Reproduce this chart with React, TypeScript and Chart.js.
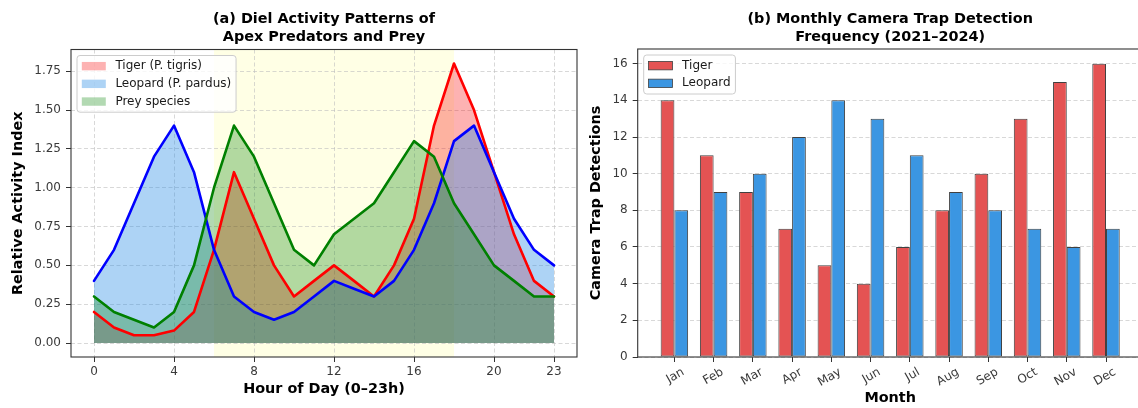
import React, { useEffect, useRef } from "react";
import { Chart, registerables } from "chart.js";

Chart.register(...registerables);

const FONT = '"DejaVu Sans", "Liberation Sans", sans-serif';

// ---- Panel (a): diel activity ----
const hours = [0, 1, 2, 3, 4, 5, 6, 7, 8, 9, 10, 11, 12, 13, 14, 15, 16, 17, 18, 19, 20, 21, 22, 23];
const tigerActivity = [0.2, 0.1, 0.05, 0.05, 0.08, 0.2, 0.6, 1.1, 0.8, 0.5, 0.3, 0.4, 0.5, 0.4, 0.3, 0.5, 0.8, 1.4, 1.8, 1.5, 1.1, 0.7, 0.4, 0.3];
const leopardActivity = [0.4, 0.6, 0.9, 1.2, 1.4, 1.1, 0.6, 0.3, 0.2, 0.15, 0.2, 0.3, 0.4, 0.35, 0.3, 0.4, 0.6, 0.9, 1.3, 1.4, 1.1, 0.8, 0.6, 0.5];
const preyActivity = [0.3, 0.2, 0.15, 0.1, 0.2, 0.5, 1.0, 1.4, 1.2, 0.9, 0.6, 0.5, 0.7, 0.8, 0.9, 1.1, 1.3, 1.2, 0.9, 0.7, 0.5, 0.4, 0.3, 0.3];
const daylight = [6, 18];
const hourTicks = [0, 4, 8, 12, 16, 20, 23];
const activityTicks = [0, 0.25, 0.5, 0.75, 1.0, 1.25, 1.5, 1.75];
const activityRange = [-0.09, 1.89];
const hourRange = [-1.15, 24.15];

// ---- Panel (b): monthly detections ----
const months = ["Jan", "Feb", "Mar", "Apr", "May", "Jun", "Jul", "Aug", "Sep", "Oct", "Nov", "Dec"];
const tigerDetections = [14, 11, 9, 7, 5, 4, 6, 8, 10, 13, 15, 16];
const leopardDetections = [8, 9, 10, 12, 14, 13, 11, 9, 8, 7, 6, 7];
const detectionTicks = [0, 2, 4, 6, 8, 10, 12, 14, 16];
const detectionRange = [0, 16.8];
const monthRange = [-0.935, 11.935];

const GRID = "rgba(190,190,190,0.75)";
const TICK_COLOR = "#3a3a3a";
const FRAME = "#333333";

function makeBandPlugin(start: number, end: number, color: string) {
  return {
    id: "dayBand",
    beforeDraw(chart: any) {
      const { ctx, chartArea } = chart;
      const xs = chart.scales.x;
      const x1 = xs.getPixelForValue(start);
      const x2 = xs.getPixelForValue(end);
      ctx.save();
      ctx.fillStyle = color;
      ctx.fillRect(x1, chartArea.top, x2 - x1, chartArea.bottom - chartArea.top);
      ctx.restore();
    },
  };
}

function makeFrameLegendPlugin(edged: boolean) {
  return {
    id: "frameLegend",
    afterDraw(chart: any) {
      const { ctx, chartArea } = chart;
      ctx.save();
      ctx.strokeStyle = FRAME;
      ctx.lineWidth = 1.1;
      ctx.strokeRect(chartArea.left, chartArea.top, chartArea.right - chartArea.left, chartArea.bottom - chartArea.top);

      const fs = 12;
      ctx.font = `${fs}px ${FONT}`;
      const items = chart.data.datasets.map((d: any) => ({
        label: d.label,
        fill: d.backgroundColor,
        edge: edged ? d.borderColor : null,
      }));
      const textW = Math.max(...items.map((i: any) => ctx.measureText(i.label).width));
      const pad = 0.4 * fs;
      const handleW = 2 * fs;
      const handleH = 0.7 * fs;
      const gap = 0.8 * fs;
      const rowH = 0.975 * fs;
      const spacing = 0.5 * fs;
      const axPad = 0.5 * fs;
      const x0 = chartArea.left + axPad;
      const y0 = chartArea.top + axPad;
      const w = pad * 2 + handleW + gap + textW;
      const h = pad * 2 + items.length * rowH + (items.length - 1) * spacing;
      const r = 3;
      ctx.beginPath();
      ctx.moveTo(x0 + r, y0);
      ctx.lineTo(x0 + w - r, y0);
      ctx.quadraticCurveTo(x0 + w, y0, x0 + w, y0 + r);
      ctx.lineTo(x0 + w, y0 + h - r);
      ctx.quadraticCurveTo(x0 + w, y0 + h, x0 + w - r, y0 + h);
      ctx.lineTo(x0 + r, y0 + h);
      ctx.quadraticCurveTo(x0, y0 + h, x0, y0 + h - r);
      ctx.lineTo(x0, y0 + r);
      ctx.quadraticCurveTo(x0, y0, x0 + r, y0);
      ctx.closePath();
      ctx.fillStyle = "rgba(255,255,255,0.8)";
      ctx.fill();
      ctx.strokeStyle = "#cccccc";
      ctx.lineWidth = 1;
      ctx.stroke();

      items.forEach((it: any, i: number) => {
        const cy = y0 + pad + rowH / 2 + i * (rowH + spacing);
        const hx = x0 + pad;
        ctx.fillStyle = it.fill;
        ctx.fillRect(hx, cy - handleH / 2, handleW, handleH);
        if (it.edge) {
          ctx.strokeStyle = it.edge;
          ctx.lineWidth = 0.8;
          ctx.strokeRect(hx, cy - handleH / 2, handleW, handleH);
        }
        ctx.fillStyle = "#1a1a1a";
        ctx.textBaseline = "middle";
        ctx.textAlign = "left";
        ctx.fillText(it.label, hx + handleW + gap, cy);
      });
      ctx.restore();
    },
  };
}

const tickFont = { family: FONT, size: 12 };
const titleFont = { family: FONT, size: 14.4, weight: "bold" as const, lineHeight: 1.2 };
const headFont = { family: FONT, size: 14.4, weight: "bold" as const, lineHeight: 1.25 };

function leftConfig(): any {
  const pts = (vals: number[]) => hours.map((h, i) => ({ x: h, y: vals[i] }));
  return {
    type: "line",
    data: {
      datasets: [
        { label: "Tiger (P. tigris)", data: pts(tigerActivity), borderColor: "rgb(255,0,0)", backgroundColor: "rgba(250,0,0,0.3)", fill: "origin", order: 3 },
        { label: "Leopard (P. pardus)", data: pts(leopardActivity), borderColor: "rgb(0,0,255)", backgroundColor: "rgba(40,140,230,0.38)", fill: "origin", order: 2 },
        { label: "Prey species", data: pts(preyActivity), borderColor: "rgb(0,128,0)", backgroundColor: "rgba(0,128,0,0.3)", fill: "origin", order: 1 },
      ],
    },
    options: {
      responsive: false,
      animation: false,
      events: [],
      layout: { padding: { left: 0, right: 8, top: 0, bottom: 0 } },
      elements: {
        line: { borderWidth: 2.6, tension: 0, borderJoinStyle: "round", borderCapStyle: "round" },
        point: { radius: 0 },
      },
      plugins: {
        legend: { display: false },
        tooltip: { enabled: false },
        filler: { drawTime: "beforeDatasetsDraw" },
        title: {
          display: true,
          fullSize: false,
          text: ["(a) Diel Activity Patterns of", "Apex Predators and Prey"],
          font: headFont,
          color: "#000",
          padding: { top: 10, bottom: 3.5 },
        },
      },
      scales: {
        x: {
          type: "linear",
          bounds: "data",
          min: hourRange[0],
          max: hourRange[1],
          afterBuildTicks: (s: any) => { s.ticks = hourTicks.map((v) => ({ value: v })); },
          afterFit: (s: any) => { s.height = 51; },
          ticks: { font: tickFont, color: TICK_COLOR, padding: 3, maxRotation: 0, minRotation: 0, callback: (v: any) => String(v) },
          grid: { color: GRID, lineWidth: 0.8, tickColor: FRAME, tickLength: 5, tickWidth: 1 },
          border: { display: false, dash: [4, 2.5] },
          title: { display: true, text: "Hour of Day (0–23h)", font: titleFont, color: "#000", padding: { top: 0, bottom: 10.4 } },
        },
        y: {
          type: "linear",
          bounds: "data",
          min: activityRange[0],
          max: activityRange[1],
          afterBuildTicks: (s: any) => { s.ticks = activityTicks.map((v) => ({ value: v })); },
          afterFit: (s: any) => { s.width = 71; },
          ticks: { font: tickFont, color: TICK_COLOR, padding: 5, callback: (v: any) => Number(v).toFixed(2) },
          grid: { color: GRID, lineWidth: 0.8, tickColor: FRAME, tickLength: 5, tickWidth: 1 },
          border: { display: false, dash: [4, 2.5] },
          title: { display: true, text: "Relative Activity Index", font: titleFont, color: "#000", padding: { top: 9.4, bottom: 0 } },
        },
      },
    },
    plugins: [makeBandPlugin(daylight[0], daylight[1], "rgba(255,255,0,0.1)"), makeFrameLegendPlugin(false)],
  };
}

function rightConfig(): any {
  const pts = (vals: number[]) => months.map((_m, i) => ({ x: i, y: vals[i] }));
  return {
    type: "bar",
    data: {
      datasets: [
        { label: "Tiger", data: pts(tigerDetections), backgroundColor: "#e45353", borderColor: "#404040", borderWidth: 1, borderSkipped: false, inflateAmount: 0 },
        { label: "Leopard", data: pts(leopardDetections), backgroundColor: "#3b96e2", borderColor: "#404040", borderWidth: 1, borderSkipped: false, inflateAmount: 0 },
      ],
    },
    options: {
      responsive: false,
      animation: false,
      events: [],
      layout: { padding: { left: 0, right: 7.3, top: 0, bottom: 0 } },
      datasets: { bar: { categoryPercentage: 0.7, barPercentage: 1.0 } },
      plugins: {
        legend: { display: false },
        tooltip: { enabled: false },
        title: {
          display: true,
          fullSize: false,
          text: ["(b) Monthly Camera Trap Detection", "Frequency (2021–2024)"],
          font: headFont,
          color: "#000",
          padding: { top: 10, bottom: 3 },
        },
      },
      scales: {
        x: {
          type: "linear",
          bounds: "data",
          offset: false,
          min: monthRange[0],
          max: monthRange[1],
          afterBuildTicks: (s: any) => { s.ticks = months.map((_m, i) => ({ value: i })); },
          afterFit: (s: any) => { s.height = 51; },
          ticks: { font: tickFont, color: TICK_COLOR, padding: 3, minRotation: 30, maxRotation: 30, labelOffset: 9, callback: (v: any) => months[Math.round(v)] ?? "" },
          grid: { offset: false, drawOnChartArea: false, drawTicks: true, color: GRID, tickColor: FRAME, tickLength: 5, tickWidth: 1 },
          border: { display: false },
          title: { display: true, text: "Month", font: titleFont, color: "#000", padding: { top: 0, bottom: 0.9 } },
        },
        y: {
          type: "linear",
          bounds: "data",
          min: detectionRange[0],
          max: detectionRange[1],
          afterBuildTicks: (s: any) => { s.ticks = detectionTicks.map((v) => ({ value: v })); },
          afterFit: (s: any) => { s.width = 52.7; },
          ticks: { font: tickFont, color: TICK_COLOR, padding: 5, callback: (v: any) => String(v) },
          grid: { color: GRID, lineWidth: 0.8, tickColor: FRAME, tickLength: 5, tickWidth: 1 },
          border: { display: false, dash: [4, 2.5] },
          title: { display: true, text: "Camera Trap Detections", font: titleFont, color: "#000", padding: { top: 3, bottom: 0 } },
        },
      },
    },
    plugins: [makeFrameLegendPlugin(true)],
  };
}

export default function App() {
  const leftRef = useRef<HTMLCanvasElement>(null);
  const rightRef = useRef<HTMLCanvasElement>(null);

  useEffect(() => {
    Chart.defaults.font.family = FONT;
    const c1 = new Chart(leftRef.current as HTMLCanvasElement, leftConfig());
    const c2 = new Chart(rightRef.current as HTMLCanvasElement, rightConfig());
    return () => {
      c1.destroy();
      c2.destroy();
    };
  }, []);

  return (
    <div style={{ position: "fixed", left: 0, top: 0, width: 1138, height: 408, overflow: "hidden", background: "#ffffff" }}>
      <canvas ref={leftRef} width={585} height={408} style={{ position: "absolute", left: 0, top: 0, width: 585, height: 408 }} />
      <canvas ref={rightRef} width={565} height={408} style={{ position: "absolute", left: 585, top: 0, width: 565, height: 408 }} />
    </div>
  );
}
